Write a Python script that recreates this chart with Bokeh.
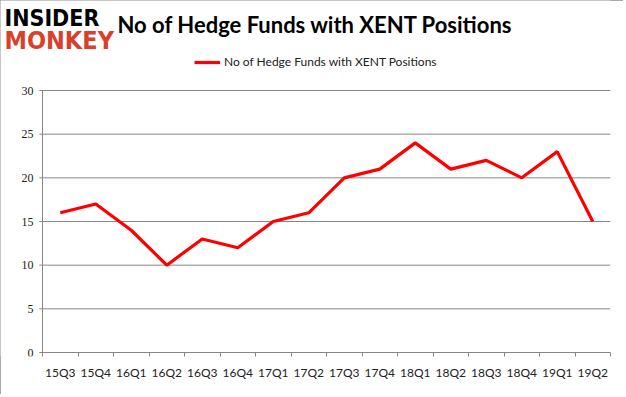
from bokeh.plotting import figure
from bokeh.models import FixedTicker, Label, Legend, LegendItem, Range1d
from bokeh.embed import file_html
from bokeh.resources import INLINE

quarters = ["15Q3", "15Q4", "16Q1", "16Q2", "16Q3", "16Q4", "17Q1", "17Q2",
            "17Q3", "17Q4", "18Q1", "18Q2", "18Q3", "18Q4", "19Q1", "19Q2"]
funds = [16, 17, 14, 10, 13, 12, 15, 16, 20, 21, 24, 21, 22, 20, 23, 15]
y_ticks = [0, 5, 10, 15, 20, 25, 30]
y_tick_labels = [str(t) for t in y_ticks]
series_name = "No of Hedge Funds with XENT Positions"

n = len(quarters)
xs = [i + 0.5 for i in range(n)]
y_top = max(y_ticks)

FONT = "Lato"
GRAY = "#868686"
TXT = "#222222"

# the frame covers the whole canvas above the x axis, so that title, logo
# and legend can sit inside it; the value area starts at x = 0, y = 0
p = figure(width=623, height=394, output_backend="svg", toolbar_location=None,
           x_range=Range1d(-1.1831, n), y_range=Range1d(-0.458, y_top + 10.306),
           min_border_left=0, min_border_right=13, min_border_top=0, min_border_bottom=38)
p.styles = {"outline": "1px solid #8c8c8c", "outline-offset": "-1px"}
p.background_fill_color = "white"
p.border_fill_color = "white"
p.outline_line_color = None
p.xgrid.grid_line_color = None
p.ygrid.grid_line_color = None
p.yaxis.visible = False

# gridlines and value axis line
p.segment(x0=[-0.09] * len(y_ticks), y0=y_ticks, x1=[n] * len(y_ticks), y1=y_ticks,
          line_color=GRAY, line_width=1)
p.segment(x0=[0], y0=[min(y_ticks)], x1=[0], y1=[y_top], line_color=GRAY, line_width=1)
p.text(x=[0] * len(y_ticks), y=y_ticks, text=y_tick_labels, x_offset=-9,
       text_align="right", text_baseline="middle", text_font=FONT,
       text_font_size="12px", text_color=TXT)

r = p.line(xs, funds, line_color="#FF0000", line_width=3.2)

# category axis: labels at the centres, ticks between the categories
p.xaxis.ticker = FixedTicker(ticks=xs, minor_ticks=list(range(n + 1)))
p.xaxis.major_label_overrides = {x: q for x, q in zip(xs, quarters)}
p.xaxis.major_tick_line_color = None
p.xaxis.major_tick_out = 0
p.xaxis.major_tick_in = 0
p.xaxis.minor_tick_out = 0
p.xaxis.minor_tick_in = 4
p.xaxis.minor_tick_line_color = GRAY
p.xaxis.axis_line_color = None
p.xaxis.major_label_standoff = 8
p.xaxis.major_label_text_font = FONT
p.xaxis.major_label_text_font_size = "12px"
p.xaxis.major_label_text_color = TXT

# title and logo
p.add_layout(Label(x=2.113, y=37.557, text=series_name, text_font=FONT,
                   text_font_style="bold", text_font_size="22px",
                   text_color="black", text_baseline="alphabetic"))
p.add_layout(Label(x=-1.07, y=38.245, text="INSIDER", text_font="DejaVu Sans Condensed",
                   text_font_style="bold", text_font_size="23px",
                   text_color="black", text_baseline="alphabetic"))
p.add_layout(Label(x=-1.07, y=35.725, text="MONKEY", text_font="DejaVu Sans Condensed",
                   text_font_style="bold", text_font_size="25px",
                   text_color="#D9402B", text_baseline="alphabetic"))

legend = Legend(items=[LegendItem(label=series_name, renderers=[r])],
                location=(194, 283 + 4), orientation="horizontal",
                border_line_color=None, background_fill_alpha=0,
                label_text_font=FONT, label_text_font_size="12px",
                label_text_color=TXT,
                glyph_width=26, glyph_height=12, padding=0, margin=0,
                label_standoff=4)
p.add_layout(legend)

open("out.html", "w").write(file_html(p, INLINE))
